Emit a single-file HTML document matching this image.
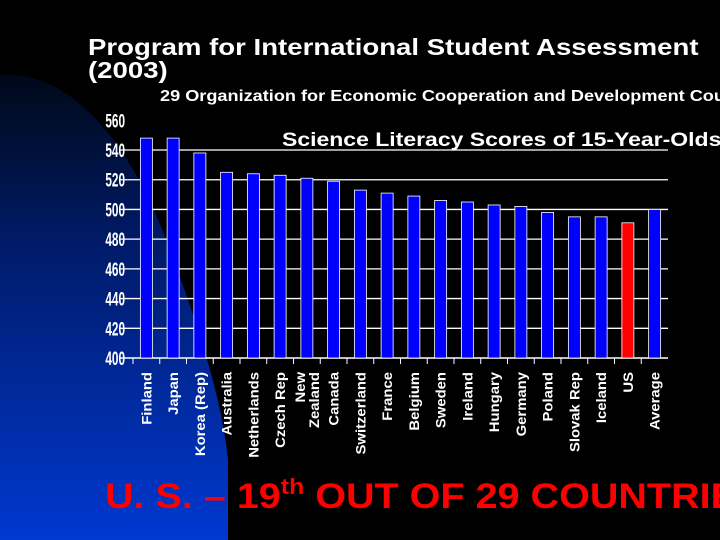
<!DOCTYPE html>
<html><head><meta charset="utf-8"><style>
body{margin:0;width:720px;height:540px;overflow:hidden;background:#000;font-family:"Liberation Sans",sans-serif}
svg{position:absolute;left:0;top:0}
</style></head><body>
<svg width="720" height="540">
<defs><linearGradient id="bg" x1="0" y1="0" x2="0" y2="1">
<stop offset="0" stop-color="#000818"/><stop offset="0.35" stop-color="#001a66"/><stop offset="1" stop-color="#0038d0"/></linearGradient></defs>
<path d="M0,75 C70,70 130,140 170,250 C200,330 222,400 228,460 L228,540 L0,540 Z" fill="url(#bg)"/>
<text transform="translate(88,55) scale(1.2,1)" fill="#fff" font-weight="bold" font-size="23">Program for International Student Assessment</text>
<text transform="translate(88,78) scale(1.2,1)" fill="#fff" font-weight="bold" font-size="23">(2003)</text>
<text transform="translate(160,101) scale(1.17,1)" fill="#fff" font-weight="bold" font-size="15.5">29 Organization for Economic Cooperation and Development Countries</text>
<g id="chart"></g>
<text transform="translate(282,146) scale(1.21,1)" fill="#fff" font-weight="bold" font-size="19">Science Literacy Scores of 15-Year-Olds</text>
<text transform="translate(105,508) scale(1.13,1)" fill="#ff0000" font-weight="bold" font-size="35">U. S. – 19<tspan dy="-14" font-size="22">th</tspan><tspan dy="14"> OUT OF 29 COUNTRIES</tspan></text>
</svg>
<script>
const categories=["Finland","Japan","Korea (Rep)","Australia","Netherlands","Czech Rep","New|Zealand","Canada","Switzerland","France","Belgium","Sweden","Ireland","Hungary","Germany","Poland","Slovak Rep","Iceland","US","Average"];
const scores=[548,548,538,525,524,523,521,519,513,511,509,506,505,503,502,498,495,495,491,500];
const yTicks=[400,420,440,460,480,500,520,540,560];
const NS="http://www.w3.org/2000/svg";
const g=document.getElementById('chart');
const x0=133,x1=668,yBase=358,yTop=120.3;
const y=v=>yBase-(v-400)/(560-400)*(yBase-yTop);
const slot=(x1-x0)/categories.length;
const xc=i=>x0+slot*(i+0.5);
function mk(t,a){const e=document.createElementNS(NS,t);for(const k in a)e.setAttribute(k,a[k]);g.appendChild(e);return e;}
yTicks.forEach(t=>{
 if(t>400&&t<560){const l=mk('line',{x1:119,x2:x1,y1:y(t),y2:y(t),stroke:'#fff','stroke-width':1.3});
 
 }
 const tx=mk('text',{x:0,y:0,fill:'#fff','font-weight':'bold','font-size':19,'text-anchor':'end',transform:`translate(125,${y(t)+7}) scale(0.62,1)`});
 tx.textContent=t;
 
 
});
const ax=mk('line',{x1:119,x2:x1,y1:yBase,y2:yBase,stroke:'#fff','stroke-width':1.5});


categories.forEach((c,i)=>{
 const tk=mk('line',{x1:x0+slot*i,x2:x0+slot*i,y1:yBase,y2:yBase+6,stroke:'#fff','stroke-width':1});
 
 
 const yy=y(scores[i]);
 const b=mk('rect',{x:xc(i)-6,y:yy,width:12,height:yBase-yy,fill:c==='US'?'#ff0000':'#0000ff',stroke:'#fff','stroke-width':0.8});
 
 
 const parts=c.split('|');
 parts.forEach((p,j)=>{
  const off=(j-(parts.length-1)/2)*14;
  const t=mk('text',{x:0,y:0,fill:'#fff','font-weight':'bold','font-size':13.5,'text-anchor':'end',transform:`translate(${xc(i)+5+off},372) rotate(-90) scale(1.1,1)`});
  t.textContent=p;
  
  
 });
});
</script>
</body></html>
